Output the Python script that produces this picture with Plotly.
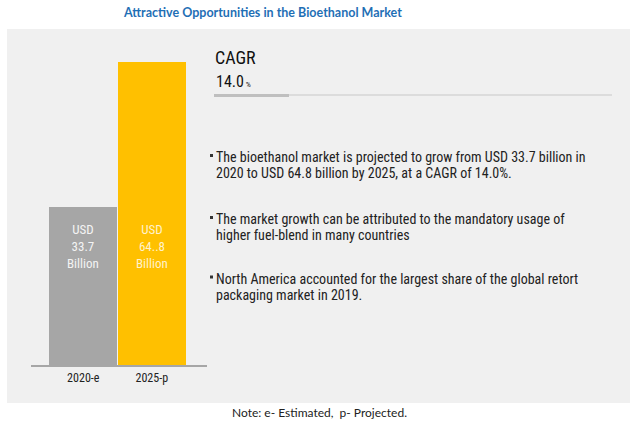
import plotly.graph_objects as go

W, H = 636, 435

categories = ["2020-e", "2025-p"]
values = [33.7, 64.8]
bar_colors = ["#A6A6A6", "#FFC000"]
bar_labels = ["USD<br>33.7<br>Billion", "USD<br>64..8<br>Billion"]
label_colors = ["#F4F4F4", "#FFF2CC"]

title = "Attractive Opportunities in the Bioethanol Market"
cagr_label = "CAGR"
cagr_value = "14.0"
bullets = [
    "The bioethanol market is projected to grow from USD 33.7 billion in<br>2020 to USD 64.8 billion by 2025, at a CAGR of 14.0%.",
    "The market growth can be attributed to the mandatory usage of<br>higher fuel-blend in many countries",
    "North America accounted for the largest share of the global retort<br>packaging market in 2019.",
]
note = "Note: e- Estimated,  p- Projected."

FONT = "Roboto Condensed, DejaVu Sans Condensed, sans-serif"
TFONT = "Lato, Open Sans, sans-serif"

def px(x):
    return x / W

def py(y):
    return 1 - y / H

fig = go.Figure()
fig.add_trace(go.Bar(
    x=categories, y=values,
    marker=dict(color=bar_colors, line=dict(width=0)),
    width=0.99,
    hoverinfo="skip",
))

unit = 68.5
x0px, x1px = 31, 207
xr0 = -0.5 - (49 - x0px) / unit
xr1 = 1.5 + (x1px - 186) / unit

fig.update_layout(
    width=W, height=H,
    margin=dict(l=0, r=0, t=0, b=0),
    paper_bgcolor="white",
    plot_bgcolor="rgba(0,0,0,0)",
    showlegend=False,
    bargap=0,
    xaxis=dict(
        domain=[px(x0px), px(x1px)],
        range=[xr0, xr1],
        showline=True, linecolor="#A6A6A6", linewidth=2,
        showgrid=False, zeroline=False,
        ticks="", tickfont=dict(family=FONT, size=12, color="#222222"),
        ticklabelstandoff=1,
    ),
    yaxis=dict(
        domain=[py(365), py(62)],
        range=[0, max(values)],
        visible=False,
    ),
    font=dict(family=FONT),
)

shapes = [
    dict(type="rect", xref="paper", yref="paper", layer="below",
         x0=px(7), x1=px(630), y0=py(403), y1=py(29),
         fillcolor="#F0F0F0", line=dict(width=0)),
    dict(type="line", xref="paper", yref="paper",
         x0=px(214), x1=px(612), y0=py(95), y1=py(95),
         line=dict(color="#C8C8C8", width=1)),
    dict(type="line", xref="paper", yref="paper",
         x0=px(214), x1=px(289), y0=py(95.5), y1=py(95.5),
         line=dict(color="#BFBFBF", width=3)),
]

annotations = [
    dict(text="<b>" + title + "</b>", xref="paper", yref="paper",
         x=px(262), y=py(12), showarrow=False, xanchor="center", yanchor="middle",
         font=dict(family=TFONT, size=12.5, color="#1F6FB5")),
    dict(text=cagr_label, xref="paper", yref="paper",
         x=px(213), y=py(58), showarrow=False, xanchor="left", yanchor="middle",
         font=dict(family=FONT, size=18, color="#111111")),
    dict(text=cagr_value + "<span style='font-size:8px'> %</span>", xref="paper", yref="paper",
         x=px(214), y=py(81), showarrow=False, xanchor="left", yanchor="middle",
         font=dict(family=FONT, size=16, color="#111111")),
    dict(text=note, xref="paper", yref="paper",
         x=px(319), y=py(412), showarrow=False, xanchor="center", yanchor="middle",
         font=dict(family=TFONT, size=12, color="#222222")),
]

for cat, lab, col in zip(categories, bar_labels, label_colors):
    annotations.append(dict(
        text=lab, xref="x", yref="paper", x=cat, y=py(247),
        showarrow=False, xanchor="center", yanchor="middle",
        font=dict(family=FONT, size=13, color=col),
    ))

bullet_first_line_y = [157, 219, 278.5]
line_gap = 16.3
for b, yy in zip(bullets, bullet_first_line_y):
    for k, line in enumerate(b.split("<br>")):
        annotations.append(dict(
            text=line, xref="paper", yref="paper", x=px(214), y=py(yy + k * line_gap),
            showarrow=False, xanchor="left", yanchor="middle", align="left",
            font=dict(family=FONT, size=14, color="#222222"),
        ))
    shapes.append(dict(type="rect", xref="paper", yref="paper",
                       x0=px(210), x1=px(213), y0=py(yy + 0), y1=py(yy - 3),
                       fillcolor="#333333", line=dict(width=0)))

fig.update_layout(shapes=shapes, annotations=annotations)
fig.write_html("out.html", config={"displayModeBar": False},
               post_script="document.body.style.margin='0';document.body.style.padding='0';")
